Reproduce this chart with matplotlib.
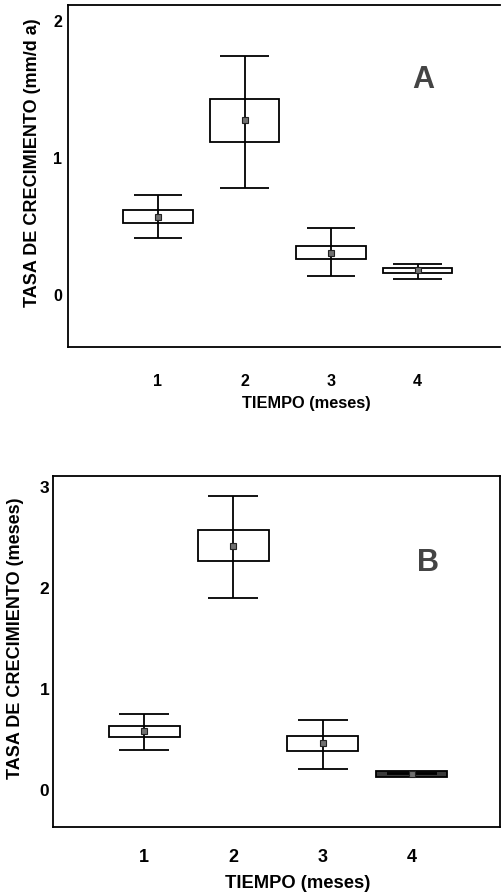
import matplotlib.pyplot as plt
import numpy as np

plt.rcParams['font.family'] = ['Liberation Sans', 'DejaVu Sans']
plt.rcParams['font.weight'] = 'bold'

# --- Data ---
meses = [1, 2, 3, 4]

# Panel A: tasa de crecimiento (mm/dia)
a_mean = [0.56, 1.27, 0.30, 0.17]
a_box_lo = [0.52, 1.11, 0.255, 0.153]
a_box_hi = [0.61, 1.42, 0.345, 0.187]
a_wlo = [0.41, 0.77, 0.13, 0.11]
a_whi = [0.72, 1.735, 0.48, 0.214]

# Panel B
b_mean = [0.57, 2.40, 0.46, 0.15]
b_box_lo = [0.51, 2.26, 0.38, 0.116]
b_box_hi = [0.62, 2.56, 0.52, 0.178]
b_wlo = [0.39, 1.89, 0.195, 0.15]
b_whi = [0.745, 2.90, 0.685, 0.16]

yticks_a = [0, 1, 2]
yticks_b = [0, 1, 2, 3]

fig = plt.figure(figsize=(5.01, 8.95), dpi=100)
axA = fig.add_axes([0.1357, 0.6112, 0.862, 0.382])
axB = fig.add_axes([0.1064, 0.0752, 0.8916, 0.3922])


def draw_panel(ax, mean, lo, hi, wlo, whi, fills):
    x = np.array(meses)
    ax.bar(x, np.array(hi) - np.array(lo), bottom=lo, width=0.8,
           color=fills, edgecolor='black', linewidth=1.3, zorder=2)
    ax.vlines(x, wlo, whi, color='black', linewidth=1.3, zorder=3)
    ax.hlines(wlo, x - 0.28, x + 0.28, color='black', linewidth=1.3, zorder=3)
    ax.hlines(whi, x - 0.28, x + 0.28, color='black', linewidth=1.3, zorder=3)
    ax.plot(x, mean, linestyle='none', marker='s', markersize=5,
            markerfacecolor='#707070', markeredgecolor='#222222',
            markeredgewidth=0.8, zorder=4)
    for sp in ax.spines.values():
        sp.set_linewidth(1.3)


draw_panel(axA, a_mean, a_box_lo, a_box_hi, a_wlo, a_whi, 'white')
draw_panel(axB, b_mean, b_box_lo, b_box_hi, b_wlo, b_whi,
           ['white', 'white', 'white', '#3a3a3a'])

# Panel A axes
axA.set_xlim(-0.04, 4.95)
axA.set_ylim(-0.39, 2.11)
axA.spines['right'].set_visible(False)
axA.set_xticks(meses)
axA.set_yticks(yticks_a)
axA.tick_params(axis='x', length=0, pad=19, labelsize=11.5)
axA.tick_params(axis='y', length=0, pad=4, labelsize=11.5)
axA.set_xlabel('TIEMPO (meses)', fontsize=11.8, fontweight='bold')
axA.xaxis.set_label_coords(0.553, -0.161)
axA.xaxis.label.set_va('center')
axA.set_ylabel('TASA DE CRECIMIENTO (mm/d a)', fontsize=13, fontweight='bold')
axA.yaxis.set_label_coords(-0.083, 0.541)
axA.yaxis.label.set_va('center')
axA.text(0.822, 0.784, 'A', transform=axA.transAxes, fontsize=22,
         fontweight='bold', color='#444444', ha='center', va='center')

# Panel B axes
axB.set_xlim(-0.02, 4.99)
axB.set_ylim(-0.373, 3.10)
axB.set_xticks(meses)
axB.set_yticks(yticks_b)
axB.tick_params(axis='x', length=0, pad=15, labelsize=13)
axB.tick_params(axis='y', length=0, pad=3, labelsize=12.5)
axB.set_xlabel('TIEMPO (meses)', fontsize=13.2, fontweight='bold')
axB.xaxis.set_label_coords(0.546, -0.158)
axB.xaxis.label.set_va('center')
axB.set_ylabel('TASA DE CRECIMIENTO (meses)', fontsize=13, fontweight='bold')
axB.yaxis.set_label_coords(-0.0857, 0.540)
axB.yaxis.label.set_va('center')
axB.text(0.839, 0.754, 'B', transform=axB.transAxes, fontsize=22,
         fontweight='bold', color='#444444', ha='center', va='center')

fig.savefig('out.png', dpi=100)
